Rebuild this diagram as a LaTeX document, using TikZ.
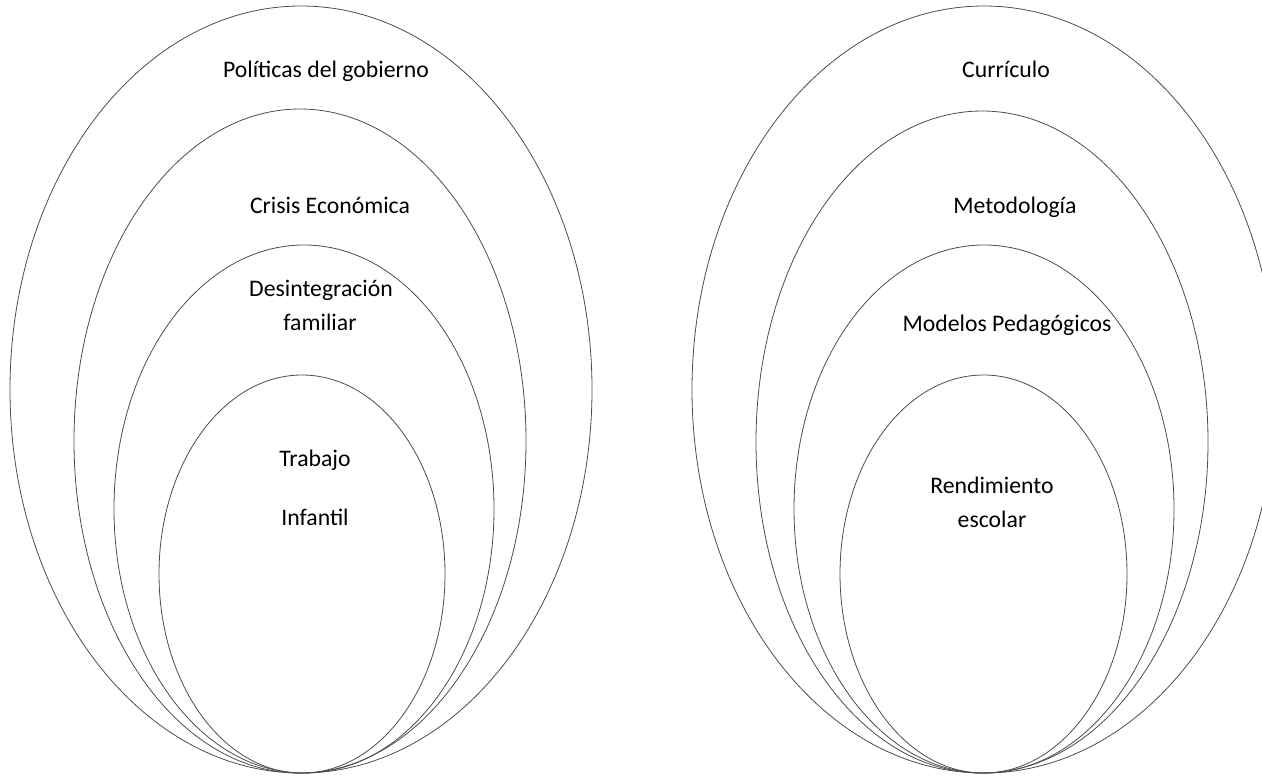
\documentclass[tikz,border=0pt]{standalone}
\usepackage{fontspec}
\setmainfont{Carlito}
\usetikzlibrary{shapes.geometric}
\begin{document}
\begin{tikzpicture}[x=0.75pt,y=-0.75pt,
  ring/.style={draw=black!70,line width=0.6pt,ellipse,inner sep=0pt,outer sep=0pt},
  lbl/.style={anchor=base,inner sep=0pt,font=\fontsize{17.8}{21}\selectfont}]
\useasboundingbox (0,0) rectangle (1262,776);
% left group
\node[ring,minimum width=436.5pt,minimum height=575.25pt] (L1) at (301,389.5) {};
\node[ring,minimum width=339pt,minimum height=498pt] (L2) at (300,441) {};
\node[ring,minimum width=285pt,minimum height=396pt] (L3) at (304,509) {};
\node[ring,minimum width=214.5pt,minimum height=298.5pt] (L4) at (302,574) {};
% right group
\node[ring,minimum width=438pt,minimum height=575.25pt] (R1) at (984,389.5) {};
\node[ring,minimum width=339pt,minimum height=496.5pt] (R2) at (982,442) {};
\node[ring,minimum width=285pt,minimum height=396pt] (R3) at (984,509) {};
\node[ring,minimum width=215.25pt,minimum height=298.5pt] (R4) at (983.5,574) {};
% labels left
\node[lbl] (t1) at (326,77) {Políticas del gobierno};
\node[lbl] (t2) at (330,213) {Crisis Económica};
\node[lbl] (t3a) at (321,296) {Desintegración};
\node[lbl] (t3b) at (320,330) {familiar};
\node[lbl] (t4a) at (315,466) {Trabajo};
\node[lbl] (t4b) at (315,525) {Infantil};
% labels right
\node[lbl] (s1) at (1006,77) {Currículo};
\node[lbl] (s2) at (1015,213) {Metodología};
\node[lbl] (s3) at (1007,331) {Modelos Pedagógicos};
\node[lbl] (s4a) at (992,493) {Rendimiento};
\node[lbl] (s4b) at (992,527) {escolar};
\end{tikzpicture}
\end{document}
